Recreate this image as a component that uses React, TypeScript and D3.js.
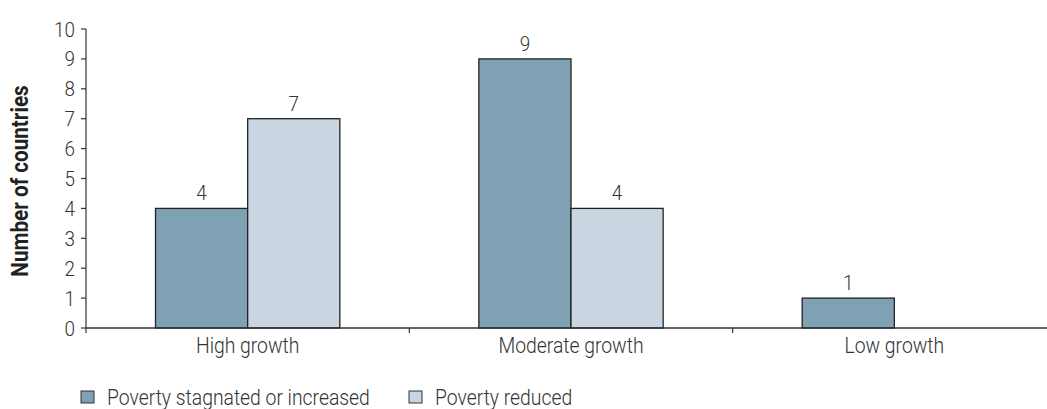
import { scaleBand, scaleLinear } from 'd3';

const categories = ['High growth', 'Moderate growth', 'Low growth'];
const seriesNames = ['Poverty stagnated or increased', 'Poverty reduced'];
const stagnated = [4, 9, 1];
const reduced = [7, 4, 0];
const yTicks = [0, 1, 2, 3, 4, 5, 6, 7, 8, 9, 10];

const colors = ['#7fa1b4', '#c9d6e1'];
const font = 'Roboto, "DejaVu Sans Condensed", sans-serif';
const textColor = '#333';
const squeeze = 0.9; // condensed look

// text drawn narrower than the font, to mimic a condensed face
const T = ({ x, y, anchor = 'start', size, weight = 300, fill = textColor, rotate = 0, children }: any) => (
  <text
    transform={`translate(${x},${y}) rotate(${rotate}) scale(${squeeze},1)`}
    textAnchor={anchor}
    fontSize={size}
    fontWeight={weight}
    fill={fill}
  >
    {children}
  </text>
);

export default function App() {
  const width = 1047;
  const height = 409;
  const left = 86;
  const base = 328;
  const top = 29;

  const x = scaleBand().domain(categories).range([left, 1056]).paddingInner(0.43).paddingOuter(0.215);
  const sub = scaleBand().domain(seriesNames).range([0, x.bandwidth()]);
  const y = scaleLinear().domain([0, 10]).range([base, top]);

  const series = [stagnated, reduced];
  const boundaries = categories.map((c) => (x(c) as number) - (x.step() * x.paddingInner()) / 2);

  return (
    <svg
      width={width}
      height={height}
      style={{ position: 'absolute', left: 0, top: 0, fontFamily: font }}
    >
      {/* bars */}
      {categories.map((c, i) =>
        series.map((vals, s) =>
          vals[i] > 0 ? (
            <g key={c + s}>
              <rect
                x={(x(c) as number) + (sub(seriesNames[s]) as number)}
                y={y(vals[i])}
                width={sub.bandwidth()}
                height={base - y(vals[i])}
                fill={colors[s]}
                stroke="#222"
                strokeWidth={1.3}
              />
              <T
                x={(x(c) as number) + (sub(seriesNames[s]) as number) + sub.bandwidth() / 2}
                y={y(vals[i]) - 8}
                anchor="middle"
                size={21}
              >
                {vals[i]}
              </T>
            </g>
          ) : null
        )
      )}

      {/* y axis */}
      <line x1={left} x2={left} y1={top} y2={base} stroke="#333" strokeWidth={1.2} />
      {yTicks.map((t) => (
        <g key={t}>
          <line x1={left - 5} x2={left} y1={y(t)} y2={y(t)} stroke="#333" strokeWidth={1.2} />
          <T x={left - 11} y={y(t) + 7.5} anchor="end" size={21}>
            {t}
          </T>
        </g>
      ))}

      {/* x axis */}
      <line x1={left} x2={width} y1={base} y2={base} stroke="#333" strokeWidth={1.4} />
      {boundaries.map((b, i) => (
        <line key={i} x1={b} x2={b} y1={base} y2={base + 5} stroke="#333" strokeWidth={1.2} />
      ))}
      {categories.map((c) => (
        <T key={c} x={(x(c) as number) + x.bandwidth() / 2} y={base + 25} anchor="middle" size={21.5}>
          {c}
        </T>
      ))}

      {/* y title */}
      <T x={28} y={181} rotate={-90} anchor="middle" size={23} weight="bold" fill="#222">
        Number of countries
      </T>

      {/* legend */}
      {seriesNames.map((n, i) => {
        const lx = [81, 409][i];
        return (
          <g key={n}>
            <rect x={lx} y={391} width={13} height={12} fill={colors[i]} stroke="#333" strokeWidth={1} />
            <T x={lx + 26} y={405} size={21.5}>
              {n}
            </T>
          </g>
        );
      })}
    </svg>
  );
}
